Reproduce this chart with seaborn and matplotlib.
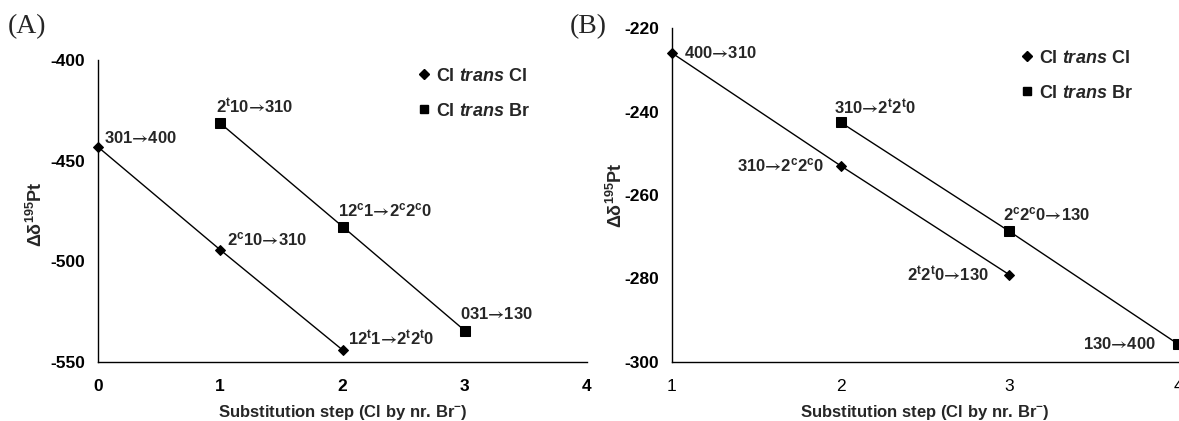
import matplotlib
matplotlib.use("Agg")
import matplotlib.pyplot as plt
import seaborn as sns
import pandas as pd
from matplotlib.lines import Line2D

# ---------------- data ----------------
series_names = ["Cl trans Cl", "Cl trans Br"]
AR = "$\\mathsf{\u2192}$"

a_cl_x = [0, 1, 2]
a_cl_y = [-443.2, -494.3, -544.0]
a_cl_labels = ["301" + AR + "400", "2$^{c}$10" + AR + "310", "12$^{t}$1" + AR + "2$^{t}$2$^{t}$0"]
a_br_x = [1, 2, 3]
a_br_y = [-431.4, -482.7, -534.4]
a_br_labels = ["2$^{t}$10" + AR + "310", "12$^{c}$1" + AR + "2$^{c}$2$^{c}$0", "031" + AR + "130"]

b_cl_x = [1, 2, 3]
b_cl_y = [-226.0, -253.0, -279.1]
b_cl_labels = ["400" + AR + "310", "310" + AR + "2$^{c}$2$^{c}$0", "2$^{t}$2$^{t}$0" + AR + "130"]
b_br_x = [2, 3, 4]
b_br_y = [-242.6, -268.7, -295.7]
b_br_labels = ["310" + AR + "2$^{t}$2$^{t}$0", "2$^{c}$2$^{c}$0" + AR + "130", "130" + AR + "400"]

a_xticks = [0, 1, 2, 3, 4]
a_yticks = [-550, -500, -450, -400]
b_xticks = [1, 2, 3, 4]
b_yticks = [-300, -280, -260, -240, -220]

# ---------------- style ----------------
sns.set_style("white")
plt.rcParams["font.family"] = ["Liberation Sans", "DejaVu Sans"]
plt.rcParams["font.weight"] = "bold"
plt.rcParams["axes.unicode_minus"] = False
plt.rcParams["mathtext.fontset"] = "custom"
plt.rcParams["mathtext.rm"] = "Liberation Sans:bold"
plt.rcParams["mathtext.bf"] = "Liberation Sans:bold"
plt.rcParams["mathtext.it"] = "Liberation Sans:bold:italic"
plt.rcParams["mathtext.sf"] = "STIXGeneral"
plt.rcParams["mathtext.default"] = "rm"

W, H = 1179, 421
fig = plt.figure(figsize=(W / 100, H / 100), dpi=100)

def px_axes(left, right, top, bottom):
    return fig.add_axes([left / W, 1 - bottom / H, (right - left) / W, (bottom - top) / H])

axA = px_axes(98, 587, 60, 362)
axB = px_axes(672, 1178, 28, 362)

def make_df(x1, y1, x2, y2):
    return pd.DataFrame({
        "x": list(x1) + list(x2),
        "y": list(y1) + list(y2),
        "series": [series_names[0]] * len(x1) + [series_names[1]] * len(x2),
    })

markers = {series_names[0]: "D", series_names[1]: "s"}
palette = {series_names[0]: "black", series_names[1]: "black"}

def draw(ax, df):
    sns.lineplot(data=df, x="x", y="y", hue="series", style="series",
                 markers=markers, dashes=False, palette=palette,
                 markersize=6, markeredgecolor="black", linewidth=1.0,
                 ax=ax, legend=False, clip_on=False)
    for ln in ax.get_lines():
        if ln.get_marker() == "s":
            ln.set_markersize(7)
        elif ln.get_marker() == "D":
            ln.set_markersize(5.5)

draw(axA, make_df(a_cl_x, a_cl_y, a_br_x, a_br_y))
draw(axB, make_df(b_cl_x, b_cl_y, b_br_x, b_br_y))

ann_fs = 12
def annotate(ax, xs, ys, labels, offsets):
    for x, y, lab, (dx, dy, ha) in zip(xs, ys, labels, offsets):
        ax.annotate(lab, (x, y), xytext=(dx, dy), textcoords="offset pixels",
                    ha=ha, va="center", fontsize=ann_fs, fontweight="bold",
                    annotation_clip=False)

annotate(axA, a_cl_x, a_cl_y, a_cl_labels,
         [(6, 9, "left"), (7, 11, "left"), (5, 12, "left")])
annotate(axA, a_br_x, a_br_y, a_br_labels,
         [(-4, 17, "left"), (-5, 16, "left"), (-5, 17, "left")])
annotate(axB, b_cl_x, b_cl_y, b_cl_labels,
         [(12, 0, "left"), (-17, 0, "right"), (-20, 0, "right")])
annotate(axB, b_br_x, b_br_y, b_br_labels,
         [(-7, 15, "left"), (-6, 17, "left"), (-22, 0, "right")])

tick_fs = 12.5
for ax, xt, yt in [(axA, a_xticks, a_yticks), (axB, b_xticks, b_yticks)]:
    ax.set_xlim(xt[0], xt[-1])
    ax.set_ylim(yt[0], yt[-1])
    ax.set_xticks(xt)
    ax.set_yticks(yt)
    ax.set_yticklabels([str(v) for v in yt], fontsize=tick_fs, fontweight="bold")
    for s in ["top", "right"]:
        ax.spines[s].set_visible(False)
    for s in ["left", "bottom"]:
        ax.spines[s].set_color("black")
        ax.spines[s].set_linewidth(1.0)
    ax.tick_params(axis="y", direction="inout", length=7, width=1, pad=6, colors="black")
    ax.tick_params(axis="x", direction="out", length=3, width=1, pad=9, colors="black")
    ax.set_xlabel("Substitution step (Cl by nr. Br$^{-}$)", fontsize=12, fontweight="bold", labelpad=7)
    ax.set_ylabel("\u0394\u03b4$^{195}$Pt", fontsize=13, fontweight="bold")
    ax.patch.set_alpha(0)

axA.set_xticklabels([str(v) for v in a_xticks], fontsize=tick_fs, fontweight="bold")
axB.set_xticklabels([str(v) for v in b_xticks], fontsize=tick_fs, fontweight="normal")
axA.yaxis.set_label_coords(-0.106, 0.49)
axB.yaxis.set_label_coords(-0.091, 0.5)

def legend(ax, anchor):
    handles = [
        Line2D([], [], marker="D", color="black", linestyle="none", markersize=5),
        Line2D([], [], marker="s", color="black", linestyle="none", markersize=6),
    ]
    labels = ["Cl $\\mathit{trans}$ Cl", "Cl $\\mathit{trans}$ Br"]
    ax.legend(handles, labels, loc="upper left", bbox_to_anchor=anchor,
              frameon=False, fontsize=13, handlelength=0.6, handletextpad=0.4,
              labelspacing=1.0, borderpad=0, borderaxespad=0)

legend(axA, (0.655, 0.975))
legend(axB, (0.69, 0.935))

fig.text(8 / W, 1 - 27 / H, "(A)", family="Liberation Serif", fontsize=20,
         fontweight="normal", va="center", ha="left")
fig.text(570 / W, 1 - 27 / H, "(B)", family="Liberation Serif", fontsize=20,
         fontweight="normal", va="center", ha="left")

fig.savefig("out.png", dpi=100)
